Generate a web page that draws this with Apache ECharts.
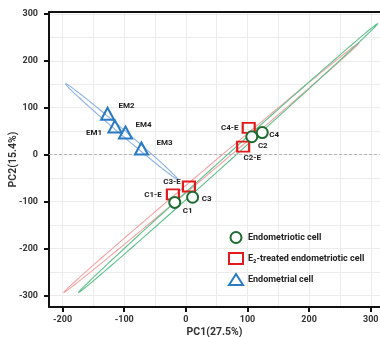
<!DOCTYPE html>
<html><head><meta charset="utf-8">
<script src="https://cdn.jsdelivr.net/npm/echarts@6/dist/echarts.min.js"></script>
<style>html,body{margin:0;padding:0;background:#fff}#c{width:380px;height:337px}</style>
</head><body><div id="c"></div>
<script>
// ---- data ----
const emNames = ['EM2', 'EM1', 'EM4', 'EM3'];
const emX = [-127, -115, -98, -72];
const emY = [87, 60, 47, 13];
const cNames = ['C4', 'C2', 'C1', 'C3'];
const cX = [124, 107, -18, 11];
const cY = [47, 38, -102, -91];
const ceNames = ['C4-E', 'C2-E', 'C1-E', 'C3-E'];
const ceX = [102, 93, -21, 5];
const ceY = [57, 17, -85, -68];
// confidence ellipses: [tipX1, tipY1, tipX2, tipY2, halfWidth]
const ellipseEM = [-195, 151, -13, -53, 5];
const ellipseCE = [-198, -294, 281, 238, 5.5];
const ellipseC = [-174, -294, 311, 279, 5.5];
const tickValues = [-300, -200, -100, 0, 100, 200, 300];
const seriesNames = ['Endometriotic cell', 'E\u2082-treated endometriotic cell', 'Endometrial cell'];

// ---- styling / label placement ----
const labelOffset = {
  'EM2': [19, -8], 'EM1': [-21, 7], 'EM4': [18, -8], 'EM3': [23, -5],
  'C4-E': [-19, 0], 'C4': [12, 2], 'C2': [11, 9], 'C2-E': [9, 11],
  'C3-E': [-17, -4], 'C1-E': [-20, 1], 'C1': [13, 9], 'C3': [14, 2]
};
const FONT = 'Roboto';

function pts(names, xs, ys) {
  return names.map((n, i) => ({
    name: n, value: [xs[i], ys[i]],
    label: { offset: labelOffset[n] }
  }));
}

function ellipseSeries(params, color) {
  return {
    type: 'custom', silent: true, z: 1,
    data: [params],
    encode: { x: [0, 2], y: [1, 3] },
    renderItem: function (p, api) {
      const x1 = api.value(0), y1 = api.value(1), x2 = api.value(2), y2 = api.value(3), b = api.value(4);
      const cx = (x1 + x2) / 2, cy = (y1 + y2) / 2;
      const ax = (x2 - x1) / 2, ay = (y2 - y1) / 2;
      const len = Math.sqrt(ax * ax + ay * ay);
      const nx = -ay / len, ny = ax / len;
      const points = [];
      for (let k = 0; k < 180; k++) {
        const t = k / 180 * Math.PI * 2;
        points.push(api.coord([cx + ax * Math.cos(t) + nx * b * Math.sin(t),
                               cy + ay * Math.cos(t) + ny * b * Math.sin(t)]));
      }
      return { type: 'polygon', shape: { points: points },
        style: { fill: 'none', stroke: color, lineWidth: 1.1 } };
    }
  };
}

const pointLabel = {
  show: true, position: 'inside', formatter: '{b}',
  fontFamily: FONT, fontWeight: 'bold', fontSize: 8, color: '#222'
};

const axisCommon = {
  type: 'value', splitNumber: 5,
  axisLine: { show: true, onZero: false, lineStyle: { color: '#111', width: 2 } },
  axisTick: { show: true, length: 5, lineStyle: { color: '#111', width: 2 }, customValues: tickValues },
  axisLabel: { fontFamily: FONT, fontWeight: 'bold', fontSize: 9, color: '#333', customValues: tickValues,
    formatter: v => (v % 100 === 0 ? String(v) : '') },
  splitLine: { show: true, lineStyle: { color: '#ececec', width: 1 } },
  minorTick: { show: false, splitNumber: 2 },
  minorSplitLine: { show: true, lineStyle: { color: '#ececec', width: 1 } },
  nameLocation: 'middle',
  nameMoveOverlap: false,
  nameTextStyle: { fontFamily: FONT, fontWeight: 'bold', fontSize: 10.5, color: '#333' }
};

const chart = echarts.init(document.getElementById('c'), null, { renderer: 'canvas' });
chart.setOption({
  animation: false,
  backgroundColor: '#fff',
  grid: { left: 49, right: 0, top: 12, bottom: 30, containLabel: false, outerBoundsMode: 'none' },
  xAxis: [
    Object.assign({}, axisCommon, { min: -222, max: 315, name: 'PC1(27.5%)', nameGap: 20,
      axisLabel: Object.assign({}, axisCommon.axisLabel, { margin: 8 }) }),
    { type: 'value', min: -222, max: 315, position: 'top', gridIndex: 0,
      axisLine: { show: true, onZero: false, lineStyle: { color: '#111', width: 2 } },
      axisTick: { show: false }, axisLabel: { show: false }, splitLine: { show: false } }
  ],
  yAxis: Object.assign({}, axisCommon, { min: -325, max: 304, name: 'PC2(15.4%)', nameGap: 30,
    axisLabel: Object.assign({}, axisCommon.axisLabel, { margin: 11 }) }),
  legend: {
    orient: 'vertical', left: 223, top: 226, itemWidth: 14, itemHeight: 11, itemGap: 8,
    textStyle: { fontFamily: FONT, fontWeight: 'bold', fontSize: 9, color: '#222' },
    data: seriesNames
  },
  series: [
    ellipseSeries(ellipseEM, '#8db2e6'),
    ellipseSeries(ellipseCE, '#f3a3a3'),
    ellipseSeries(ellipseC, '#5fc18b'),
    {
      name: seriesNames[0], type: 'scatter', z: 5, symbol: 'circle', symbolSize: 11,
      itemStyle: { color: '#ffffff', borderColor: '#1d6b30', borderWidth: 2, opacity: 1 },
      label: pointLabel,
      data: pts(cNames, cX, cY),
      markLine: {
        silent: true, symbol: 'none', label: { show: false },
        lineStyle: { color: '#b5b5b5', type: [3, 2], width: 1 },
        data: [{ yAxis: 0 }]
      }
    },
    {
      name: seriesNames[1], type: 'scatter', z: 4, symbol: 'rect', symbolSize: [12, 10],
      itemStyle: { color: 'rgba(255,255,255,0)', borderColor: '#e31a1c', borderWidth: 2, opacity: 1 },
      label: pointLabel,
      data: pts(ceNames, ceX, ceY)
    },
    {
      name: seriesNames[2], type: 'scatter', z: 5, symbol: 'triangle', symbolSize: [13, 12],
      itemStyle: { color: 'rgba(255,255,255,0)', borderColor: '#2a7bc4', borderWidth: 2, opacity: 1 },
      label: pointLabel,
      data: pts(emNames, emX, emY)
    }
  ]
});
</script></body></html>
